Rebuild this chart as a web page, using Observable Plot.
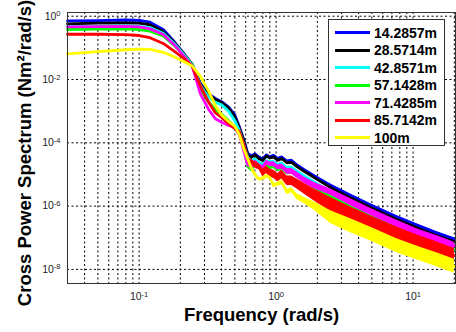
<!DOCTYPE html>
<html><head><meta charset="utf-8">
<script src="https://cdn.jsdelivr.net/npm/d3@7"></script>
<script src="https://cdn.jsdelivr.net/npm/@observablehq/plot@0.6"></script>
<style>
body{margin:0;background:#fff;}
#wrap{position:relative;width:456px;height:332px;font-family:"Liberation Sans",Arial,sans-serif;}
#legend{position:absolute;left:328px;top:19px;width:117px;height:127px;border:1.5px solid #333;background:#fff;box-sizing:border-box;}
.item{position:absolute;left:0;width:115px;height:18px;}
.sw{position:absolute;left:6px;top:7.5px;width:35px;height:3px;}
.lab{position:absolute;left:45px;top:0;line-height:18px;font-weight:bold;font-size:14px;color:#000;}
</style>
</head><body>
<div id="wrap"><div id="chart"></div><div id="legend"></div></div>
<script>
// Frequencies (rad/s)
const freq = [0.03,0.05,0.08,0.1,0.12,0.15,0.18,0.21,0.244,0.28,0.32,0.36,0.40,0.45,0.50,0.54,0.58,0.62,0.66,0.70,0.75,0.80,0.85,0.90,0.96,1.03,1.1,1.2,1.3,1.42,1.6,1.9,2.5,3.5,5,7.6,11,15,20];
// log10 of cross power spectrum (Nm^2/rad/s)
const blueLog = [-0.15,-0.14,-0.12,-0.13,-0.19,-0.42,-0.80,-1.16,-1.52,-2.12,-2.45,-2.60,-2.70,-2.87,-3.12,-3.50,-3.90,-4.32,-4.42,-4.35,-4.45,-4.52,-4.38,-4.45,-4.40,-4.50,-4.45,-4.58,-4.56,-4.70,-4.85,-5.05,-5.35,-5.67,-5.99,-6.35,-6.63,-6.86,-7.05];
const blackLog = [-0.24,-0.22,-0.21,-0.22,-0.27,-0.48,-0.83,-1.17,-1.52,-2.15,-2.48,-2.63,-2.72,-2.90,-3.18,-3.55,-3.92,-4.38,-4.46,-4.38,-4.50,-4.56,-4.42,-4.48,-4.45,-4.55,-4.50,-4.63,-4.62,-4.75,-4.90,-5.10,-5.41,-5.74,-6.06,-6.42,-6.71,-6.94,-7.12];
const cyanLog = [-0.33,-0.32,-0.31,-0.32,-0.36,-0.54,-0.86,-1.19,-1.53,-2.18,-2.55,-2.72,-2.80,-3.00,-3.30,-3.62,-4.05,-4.45,-4.60,-4.52,-4.62,-4.70,-4.58,-4.62,-4.60,-4.70,-4.65,-4.80,-4.78,-4.90,-5.05,-5.25,-5.55,-5.87,-6.19,-6.55,-6.84,-7.04,-7.24];
const greenLog = [-0.42,-0.41,-0.40,-0.42,-0.47,-0.62,-0.92,-1.23,-1.55,-2.30,-2.70,-2.95,-3.10,-3.30,-3.50,-3.70,-4.15,-4.75,-4.85,-4.65,-4.78,-4.85,-4.72,-4.78,-4.75,-4.85,-4.80,-4.95,-4.93,-5.05,-5.20,-5.40,-5.70,-6.02,-6.34,-6.70,-6.98,-7.18,-7.38];
const magentaLog = [-0.34,-0.33,-0.32,-0.34,-0.40,-0.58,-0.90,-1.24,-1.58,-2.45,-2.93,-3.24,-3.35,-3.45,-3.52,-3.75,-4.25,-4.70,-4.75,-4.60,-4.72,-4.78,-4.62,-4.68,-4.68,-4.78,-4.75,-4.90,-4.90,-5.02,-5.18,-5.35,-5.56,-5.88,-6.20,-6.56,-6.85,-7.05,-7.25];
const redLog = [-0.57,-0.57,-0.58,-0.61,-0.68,-0.86,-1.10,-1.32,-1.58,-2.20,-2.70,-3.05,-3.20,-3.40,-3.55,-3.65,-4.05,-4.50,-4.60,-4.70,-4.75,-4.95,-4.85,-4.95,-5.00,-5.10,-5.00,-5.20,-5.20,-5.30,-5.45,-5.65,-5.95,-6.25,-6.55,-6.88,-7.15,-7.35,-7.56];
const yellowLog = [-1.19,-1.12,-1.06,-1.04,-1.05,-1.14,-1.28,-1.42,-1.57,-1.90,-2.35,-2.82,-3.12,-3.33,-3.47,-3.75,-4.18,-4.50,-4.80,-5.00,-5.15,-5.12,-5.05,-5.10,-5.35,-5.30,-5.25,-5.55,-5.50,-5.70,-5.82,-6.00,-6.35,-6.62,-6.90,-7.25,-7.50,-7.70,-7.90];
// half-width (decades) of the noisy band around each curve
const blueSpread = [0,0,0,0,0,0,0,0,0,0,0,0,0,0,0,0,0,0,0.03,0.03,0.03,0.03,0.03,0.03,0.03,0.03,0.03,0.03,0.04,0.04,0.04,0.04,0.05,0.05,0.05,0.05,0.05,0.05,0.05];
const blackSpread = [0,0,0,0,0,0,0,0,0,0,0,0,0,0,0,0,0,0,0,0,0,0,0,0,0,0,0,0,0,0,0,0,0,0,0,0,0,0,0];
const cyanSpread = [0,0,0,0,0,0,0,0,0,0,0,0,0,0,0,0,0,0,0.05,0.05,0.05,0.05,0.05,0.05,0.05,0.05,0.05,0.05,0.05,0.05,0.05,0.05,0.05,0.05,0.05,0.05,0.05,0.05,0.05];
const greenSpread = [0,0,0,0,0,0,0,0,0,0,0,0,0,0,0,0,0,0,0.05,0.05,0.05,0.05,0.05,0.05,0.05,0.05,0.05,0.05,0.05,0.05,0.05,0.05,0.05,0.05,0.05,0.05,0.05,0.05,0.05];
const magentaSpread = [0,0,0,0,0,0,0,0,0,0,0,0,0,0,0,0,0,0,0.05,0.05,0.06,0.06,0.07,0.07,0.08,0.08,0.08,0.09,0.09,0.1,0.1,0.1,0.1,0.11,0.11,0.11,0.11,0.11,0.11];
const redSpread = [0,0,0,0,0,0,0,0,0,0,0,0,0,0,0,0,0,0,0.08,0.1,0.1,0.12,0.12,0.12,0.13,0.13,0.14,0.15,0.15,0.16,0.17,0.19,0.22,0.22,0.22,0.22,0.22,0.22,0.22];
const yellowSpread = [0,0,0,0,0,0,0,0,0,0,0,0,0,0,0,0,0,0,0,0,0.04,0.05,0.05,0.05,0.06,0.06,0.07,0.08,0.08,0.09,0.1,0.13,0.2,0.22,0.22,0.22,0.22,0.22,0.22];

const seriesNames = ["14.2857m","28.5714m","42.8571m","57.1428m","71.4285m","85.7142m","100m"];
const seriesColors = ["#0000ff","#000000","#00ffff","#00ff00","#ff00ff","#ff0000","#ffff00"];
const seriesLogs = [blueLog,blackLog,cyanLog,greenLog,magentaLog,redLog,yellowLog];
const seriesSpreads = [blueSpread,blackSpread,cyanSpread,greenSpread,magentaSpread,redSpread,yellowSpread];

const xTicks = [0.1,1,10];
const yTicks = [1,1e-2,1e-4,1e-6,1e-8];
const xGrid = [0.04,0.05,0.06,0.07,0.08,0.09,0.1,0.2,0.3,0.4,0.5,0.6,0.7,0.8,0.9,1,2,3,4,5,6,7,8,9,10,20];
const yGrid = [1,1e-2,1e-4,1e-6,1e-8];

const marks = [
  Plot.ruleX(xGrid, {stroke:"#000", strokeWidth:1, strokeDasharray:"2,2.5"}),
  Plot.ruleY(yGrid, {stroke:"#000", strokeWidth:1, strokeDasharray:"2,2.5"})
];
seriesNames.forEach((name, i) => {
  const L = seriesLogs[i], S = seriesSpreads[i];
  const rows = freq.map((f, j) => ({f, c: 10 ** L[j], lo: 10 ** (L[j] - S[j]), hi: 10 ** (L[j] + S[j])}));
  marks.push(Plot.areaY(rows, {x:"f", y1:"lo", y2:"hi", fill: seriesColors[i]}));
  marks.push(Plot.line(rows, {x:"f", y:"c", stroke: seriesColors[i], strokeWidth: 2.8}));
});
marks.push(
  Plot.frame({stroke:"#333", strokeWidth:1}),
  Plot.axisX(xTicks, {tickSize:0, tickPadding:9, fontSize:10.5, fill:"#222", label:null, tickFormat: d => "10^" + Math.round(Math.log10(d))}),
  Plot.axisY(yTicks, {tickSize:0, tickPadding:7, fontSize:10.5, fill:"#222", label:null, tickFormat: d => "10^" + Math.round(Math.log10(d))}),
  Plot.text(["Frequency (rad/s)"], {frameAnchor:"bottom", dy:37, fontSize:18.5, fontWeight:"bold", fill:"#000"}),
  Plot.text(["Cross Power Spectrum (Nm²/rad/s)"], {frameAnchor:"left", textAnchor:"middle", dx:-42, dy:5, rotate:-90, fontSize:18.5, fontWeight:"bold", fill:"#000"})
);

const chart = Plot.plot({
  width:456, height:332,
  marginLeft:67, marginRight:1, marginTop:12, marginBottom:49,
  style:{fontFamily:"'Liberation Sans', Arial, sans-serif", background:"#fff", overflow:"visible"},
  x:{type:"log", domain:[0.03,20.4]},
  y:{type:"log", domain:[3.59e-9,1.31]},
  marks
});
document.getElementById("chart").appendChild(chart);

// superscript exponents in tick labels
d3.select(chart).selectAll("g[aria-label$='tick label'] text").each(function(){
  const t = d3.select(this);
  const s = t.text();
  if (s.indexOf("^") < 0) return;
  const [base, exp] = s.split("^");
  t.text(base);
  t.append("tspan").attr("dy","-0.45em").attr("font-size","7.5px").text(exp);
});

const legend = document.getElementById("legend");
seriesNames.forEach((name, i) => {
  const it = document.createElement("div");
  it.className = "item";
  it.style.top = (3.5 + 17.5 * i) + "px";
  it.innerHTML = `<div class="sw" style="background:${seriesColors[i]}"></div><div class="lab">${name}</div>`;
  legend.appendChild(it);
});
</script>
</body></html>
